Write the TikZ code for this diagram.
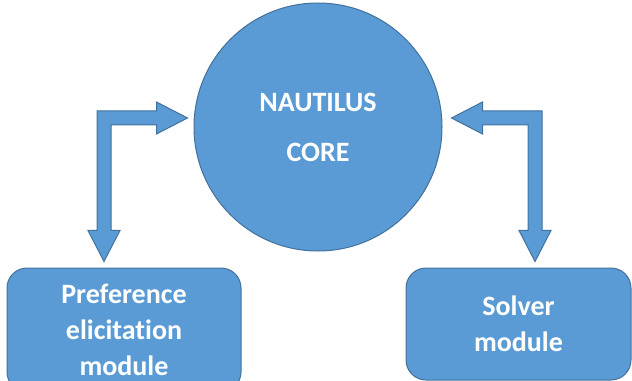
\documentclass[tikz,border=0pt]{standalone}
\usepackage{fontspec}
\setmainfont[Ligatures=NoCommon]{Carlito}
\usetikzlibrary{calc}
\definecolor{shapefill}{HTML}{5B9BD5}
\definecolor{shapeborder}{HTML}{41719C}

% two-headed elbow arrow: #1 bend, #2 horizontal tip, #3 vertical tip
% (shaft half width 5.25pt, head half width 12pt, head length 23.25pt)
\newcommand{\elbowarrow}[3]{%
  \draw[blockarrow] let \p1=(#1), \p2=(#2), \p3=(#3), \n1={sign(\x2-\x1)} in
    (\p3) -- ({\x3+\n1*12pt},{\y3+23.25pt}) -- ({\x3+\n1*5.25pt},{\y3+23.25pt})
    -- ({\x1+\n1*5.25pt},{\y1-5.25pt}) -- ({\x2-\n1*23.25pt},{\y1-5.25pt})
    -- ({\x2-\n1*23.25pt},{\y1-12pt}) -- (\p2) -- ({\x2-\n1*23.25pt},{\y1+12pt})
    -- ({\x2-\n1*23.25pt},{\y1+5.25pt}) -- ({\x1-\n1*5.25pt},{\y1+5.25pt})
    -- ({\x1-\n1*5.25pt},{\y3+23.25pt}) -- ({\x3-\n1*12pt},{\y3+23.25pt}) -- cycle;
}

\begin{document}
\begin{tikzpicture}[
  x=0.75pt, y=-0.75pt,
  bluebox/.style={draw=shapeborder, fill=shapefill, line width=0.75pt, text=white,
    align=center, inner sep=0pt},
  core/.style={bluebox, circle, minimum size=186pt,
    font=\fontsize{21pt}{37.5pt}\selectfont\bfseries},
  module/.style={bluebox, rounded corners=15pt,
    font=\fontsize{21pt}{27pt}\selectfont\bfseries},
  blockarrow/.style={draw=shapeborder, fill=shapefill, line width=0.75pt, line join=miter}
]
\useasboundingbox (0,0) rectangle (632,381);

% ---------------------------------------------------------------------------
% core and the two modules
% ---------------------------------------------------------------------------
\node[core] (core) at (318,127) {NAUTILUS\\CORE};
\node[module, minimum width=175.5pt, minimum height=93pt] (pref) at (124,330)
  {Preference\\elicitation\\module};
\node[module, minimum width=168.75pt, minimum height=84pt] (solver) at (518.5,324)
  {Solver\\module};

% ---------------------------------------------------------------------------
% elbow arrows between the core and the modules
% ---------------------------------------------------------------------------
\coordinate (ltipH) at ($(core.west)+(-6,-9)$);
\coordinate (ltipV) at ($(pref.north)+(-20,-6)$);
\coordinate (lbend) at (ltipV |- ltipH);
\elbowarrow{lbend}{ltipH}{ltipV}

\coordinate (rtipH) at ($(core.east)+(9,-9)$);
\coordinate (rtipV) at ($(solver.north)+(16.5,-6)$);
\coordinate (rbend) at (rtipV |- rtipH);
\elbowarrow{rbend}{rtipH}{rtipV}

\end{tikzpicture}
\end{document}
